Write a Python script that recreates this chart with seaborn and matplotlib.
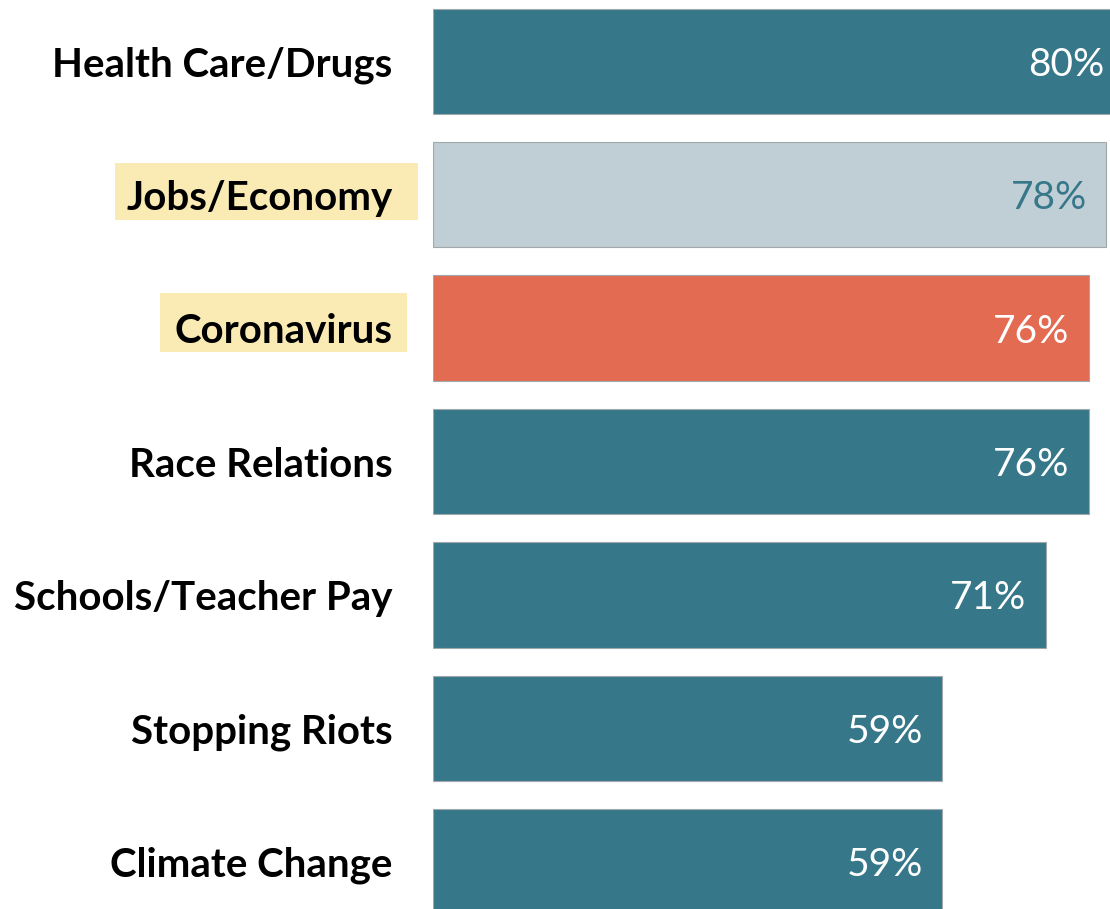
import matplotlib
matplotlib.use("Agg")
import matplotlib.pyplot as plt
import seaborn as sns
import pandas as pd
from matplotlib.patches import Rectangle

categories = ["Health Care/Drugs", "Jobs/Economy", "Coronavirus", "Race Relations",
              "Schools/Teacher Pay", "Stopping Riots", "Climate Change"]
values = [80, 78, 76, 76, 71, 59, 59]
bar_colors = ["#37778A", "#C0CFD5", "#E26B51", "#37778A", "#37778A", "#37778A", "#37778A"]
label_colors = ["white", "#37778A", "white", "white", "white", "white", "white"]
highlighted = ["Jobs/Economy", "Coronavirus"]

sns.set_theme(style="white")
plt.rcParams['font.family'] = ['Lato', 'DejaVu Sans']

W, H = 1110, 909
fig = plt.figure(figsize=(W / 100, H / 100), dpi=100)
ax = fig.add_axes([433 / W, 0, (W - 433) / W, 1])

df = pd.DataFrame({"cat": categories, "val": values})
sns.barplot(data=df, x="val", y="cat", hue="cat", palette=bar_colors, legend=False,
            saturation=1, width=0.79, edgecolor="#A0A8AB", linewidth=0.8, ax=ax, orient="h")

ax.set_xlim(0, 78.45)
ax.set_ylim(6.356, -0.461)
ax.set_xlabel("")
ax.set_ylabel("")
ax.set_xticks([])
for s in ax.spines.values():
    s.set_visible(False)
ax.tick_params(axis="y", length=0, pad=29)
for t in ax.get_yticklabels():
    t.set_fontsize(29)
    t.set_fontweight("bold")
    t.set_color("black")
    t.set_verticalalignment("center_baseline")

for i, (v, c) in enumerate(zip(values, label_colors)):
    ax.annotate(f"{v}%", xy=(v, i), xytext=(-14, 0), textcoords="offset points",
                ha="right", va="center_baseline", color=c, fontsize=28, annotation_clip=False)

# highlighter marks behind labels
hl_boxes = {"Jobs/Economy": (115, 163, 303, 57), "Coronavirus": (160, 293, 247, 59)}
for name in highlighted:
    x, y, w, h = hl_boxes[name]
    fig.patches.append(Rectangle((x / W, 1 - (y + h) / H), w / W, h / H,
                                 transform=fig.transFigure, facecolor="#F9EBB3",
                                 edgecolor="none", zorder=-1))

fig.savefig("out.png", dpi=100)
